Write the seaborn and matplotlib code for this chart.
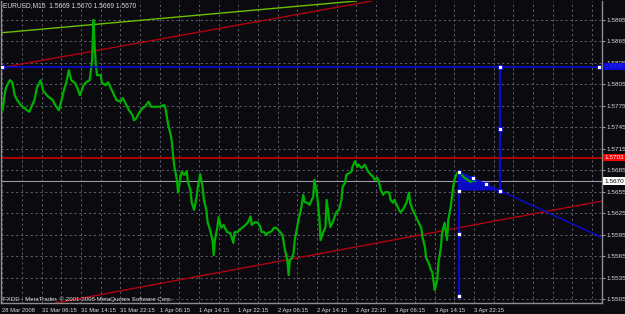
import numpy as np
import pandas as pd
import seaborn as sns
import matplotlib.pyplot as plt

# EURUSD M15 chart, bar index (0 = first bar shown) and close
bars = [0, 2, 3, 6, 8, 10, 12, 15, 18, 20, 22, 24, 26, 28, 31, 33, 36, 38, 41, 43,
        46, 48, 50, 52, 54, 56, 59, 61, 63, 66, 68, 71, 72, 73, 74, 75, 76, 77, 80, 81,
        84, 86, 89, 91, 93, 96, 98, 101, 103, 106, 107, 109, 111, 114, 116, 119, 121, 124, 126, 128,
        131, 132, 133, 135, 137, 138, 139, 140, 141, 142, 143, 145, 146, 148, 150, 151, 153, 154, 156, 158,
        159, 161, 163, 164, 166, 167, 169, 171, 172, 173, 175, 176, 178, 180, 181, 183, 185, 186, 188, 189,
        191, 193, 195, 198, 200, 202, 203, 205, 206, 208, 210, 211, 213, 215, 216, 218, 220, 221, 223, 224,
        226, 228, 229, 230, 232, 233, 234, 236, 237, 238, 240, 241, 243, 245, 246, 248, 250, 251, 253, 254,
        256, 258, 259, 261, 263, 264, 266, 267, 269, 271, 272, 274, 276, 277, 279, 280, 282, 284, 285, 287,
        289, 290, 292, 293, 295, 297, 298, 300, 302, 303, 305, 306, 308, 310, 311, 313, 315, 316, 318, 319,
        321, 323, 324, 326, 328, 329, 331, 332, 334, 336, 337, 339, 341, 342, 344, 345, 347, 349, 350, 352,
        354, 355, 357, 358, 360, 362, 363, 365, 367, 368, 370, 371, 374, 376, 379, 381, 384, 385]
closes = [1.5769, 1.5794, 1.5801, 1.5811, 1.5808, 1.5790, 1.5783, 1.5776, 1.5772, 1.5769,
          1.5767, 1.5776, 1.5783, 1.5800, 1.5811, 1.5797, 1.5790, 1.5787, 1.5783, 1.5776,
          1.5769, 1.5783, 1.5797, 1.5808, 1.5825, 1.5811, 1.5807, 1.5800, 1.5790, 1.5804,
          1.5808, 1.5811, 1.5825, 1.5839, 1.5895, 1.5860, 1.5832, 1.5818, 1.5818, 1.5807,
          1.5804, 1.5808, 1.5797, 1.5790, 1.5783, 1.5781, 1.5786, 1.5776, 1.5769, 1.5762,
          1.5755, 1.5758, 1.5765, 1.5772, 1.5774, 1.5781, 1.5774, 1.5774, 1.5774, 1.5774,
          1.5776, 1.5776, 1.5769, 1.5748, 1.5735, 1.5723, 1.5704, 1.5690, 1.5681, 1.5672,
          1.5654, 1.5676, 1.5683, 1.5679, 1.5684, 1.5669, 1.5658, 1.5641, 1.5630, 1.5647,
          1.5661, 1.5680, 1.5661, 1.5644, 1.5630, 1.5613, 1.5602, 1.5588, 1.5567, 1.5588,
          1.5606, 1.5620, 1.5605, 1.5609, 1.5605, 1.5599, 1.5598, 1.5595, 1.5584, 1.5599,
          1.5599, 1.5602, 1.5605, 1.5609, 1.5613, 1.5621, 1.5609, 1.5612, 1.5613, 1.5612,
          1.5606, 1.5599, 1.5599, 1.5595, 1.5598, 1.5599, 1.5602, 1.5605, 1.5605, 1.5603,
          1.5599, 1.5595, 1.5584, 1.5574, 1.5560, 1.5539, 1.5560, 1.5564, 1.5570, 1.5588,
          1.5606, 1.5616, 1.5630, 1.5651, 1.5641, 1.5640, 1.5637, 1.5641, 1.5648, 1.5672,
          1.5654, 1.5620, 1.5588, 1.5598, 1.5606, 1.5644, 1.5616, 1.5606, 1.5613, 1.5623,
          1.5627, 1.5630, 1.5644, 1.5662, 1.5668, 1.5679, 1.5681, 1.5683, 1.5690, 1.5698,
          1.5690, 1.5693, 1.5689, 1.5689, 1.5693, 1.5686, 1.5683, 1.5679, 1.5676, 1.5672,
          1.5675, 1.5672, 1.5658, 1.5651, 1.5654, 1.5655, 1.5654, 1.5644, 1.5640, 1.5644,
          1.5637, 1.5630, 1.5627, 1.5630, 1.5637, 1.5640, 1.5654, 1.5640, 1.5630, 1.5623,
          1.5619, 1.5612, 1.5605, 1.5592, 1.5578, 1.5563, 1.5556, 1.5546, 1.5543, 1.5518,
          1.5532, 1.5556, 1.5578, 1.5598, 1.5612, 1.5588, 1.5616, 1.5634, 1.5662, 1.5672,
          1.5681, 1.5683, 1.5679, 1.5675, 1.5672, 1.5669, 1.5672, 1.5670]

time_tick_bars = [0, 32, 64, 96, 128, 160, 192, 224, 256, 288, 320, 352, 384]
time_tick_labels = ["28 Mar 2008", "31 Mar 06:15", "31 Mar 14:15", "31 Mar 22:15",
                    "1 Apr 06:15", "1 Apr 14:15", "1 Apr 22:15", "2 Apr 06:15",
                    "2 Apr 14:15", "2 Apr 22:15", "3 Apr 06:15", "3 Apr 14:15", "3 Apr 22:15"]
price_ticks = [1.5505, 1.5535, 1.5565, 1.5595, 1.5625, 1.5655, 1.5685,
               1.5715, 1.5745, 1.5775, 1.5805, 1.5835, 1.5865, 1.5895]

# trend lines, two anchors each (bar, price)
green_trend_bars = [-2, 161]
green_trend_prices = [1.5877, 1.5902]
red_upper_bars = [4, 124]
red_upper_prices = [1.5830, 1.5867]
red_lower_bars = [340, 487]
red_lower_prices = [1.5595, 1.5642]

resistance_level = 1.5703
blue_level = 1.5830
last_price = 1.5670

# blue drawing objects
blue_level_bars = [0, 405, 486]
tri_bars = [372, 405, 372]
tri_prices = [1.5683, 1.5657, 1.5657]
right_leg_top = 1.5830
left_leg_bottom = 1.5510

bg = "#0b0b0f"
grid_col = "#5e5e72"
text_col = "#dcdcdc"
blue = "#0a0ad8"
small_font = ["Liberation Sans", "DejaVu Sans"]

sns.set_style("dark", {"axes.facecolor": bg, "figure.facecolor": bg})
plt.rcParams["font.family"] = small_font

df = pd.DataFrame({"bar": bars, "close": closes})

fig = plt.figure(figsize=(6.25, 3.14), dpi=100)
ax = fig.add_axes([1 / 625, 11 / 314, 601 / 625, 302 / 314])
ax.set_facecolor(bg)

xmin, xmax = -1.22, 488.2
ax.set_xlim(xmin, xmax)
ax.set_ylim(1.55001, 1.59215)

# grid
ax.set_xticks(time_tick_bars)
ax.set_xticklabels(time_tick_labels, ha="left", fontsize=4.2, color=text_col)
ax.set_xticks([b for b in range(16, 488, 16) if b not in time_tick_bars], minor=True)
ax.yaxis.tick_right()
ax.set_yticks(price_ticks)
ax.set_yticklabels([f"{p:.4f}" for p in price_ticks], fontsize=4.6, color=text_col)
ax.grid(True, which="both", color=grid_col, linestyle=(0, (2.2, 2.8)), linewidth=0.7)
ax.tick_params(axis="x", which="major", length=2, pad=1.8, color="#9a9a9a")
ax.tick_params(axis="x", which="minor", length=0)
ax.tick_params(axis="y", length=2, pad=1.2, color="#9a9a9a")
for side in ["left", "right", "bottom"]:
    ax.spines[side].set_color("#8e8e8e")
    ax.spines[side].set_linewidth(1.0)
    ax.spines[side].set_visible(True)
ax.spines["top"].set_visible(False)

# horizontal levels
ax.axhline(resistance_level, color="#b40000", linewidth=1.4, zorder=2)
ax.axhline(last_price, color="#9a9aa6", linewidth=0.8, zorder=2)

# trend lines
ax.axline((green_trend_bars[0], green_trend_prices[0]), (green_trend_bars[1], green_trend_prices[1]),
          color="#6cbf00", linewidth=1.0, zorder=2)
ax.axline((red_upper_bars[0], red_upper_prices[0]), (red_upper_bars[1], red_upper_prices[1]),
          color="#b00010", linewidth=1.0, zorder=2)
ax.axline((red_lower_bars[0], red_lower_prices[0]), (red_lower_bars[1], red_lower_prices[1]),
          color="#b00010", linewidth=1.0, zorder=2)

# blue triangle object (drawn under the price)
ax.fill(tri_bars, tri_prices, color=blue, alpha=0.9, linewidth=0, zorder=3)

# price
sns.lineplot(data=df, x="bar", y="close", ax=ax, color="#00b000", linewidth=1.6, zorder=4)
ax.set_xlabel("")
ax.set_ylabel("")
ax.xaxis.label.set_visible(False)
ax.yaxis.label.set_visible(False)

# blue lines
mk = dict(marker="s", markersize=3, markerfacecolor="white", markeredgecolor=blue, markeredgewidth=0.6)
ax.plot([blue_level_bars[0], blue_level_bars[-1]], [blue_level, blue_level], color=blue, linewidth=1.2, zorder=5)
ax.plot([blue_level_bars[0], blue_level_bars[-1]], [blue_level, blue_level], linestyle="none", zorder=6, **mk)

rx = tri_bars[1]
ax.plot([rx, rx], [right_leg_top, tri_prices[1]], color=blue, linewidth=1.5, zorder=5)
ax.plot([rx, rx, rx], [right_leg_top, (right_leg_top + tri_prices[1]) / 2, tri_prices[1]],
        linestyle="none", zorder=6, **mk)

lx = tri_bars[0]
ax.plot([lx, lx], [tri_prices[0], left_leg_bottom], color=blue, linewidth=1.5, zorder=5)
ax.plot([lx] * 4, [tri_prices[0], tri_prices[2], (tri_prices[0] + left_leg_bottom) / 2, left_leg_bottom],
        linestyle="none", zorder=6, **mk)

# ray along the triangle hypotenuse, extended to the right edge
slope = (tri_prices[1] - tri_prices[0]) / (tri_bars[1] - tri_bars[0])
ax.plot([tri_bars[0], xmax], [tri_prices[0], tri_prices[0] + slope * (xmax - tri_bars[0])],
        color=blue, linewidth=1.0, zorder=5)
hyp_b = [tri_bars[0] + (tri_bars[1] - tri_bars[0]) * f for f in (1 / 3, 2 / 3)]
ax.plot(hyp_b, [tri_prices[0] + slope * (b - tri_bars[0]) for b in hyp_b], linestyle="none", zorder=6, **mk)

# price tags on the axis
def tag(price, face, fg):
    ax.annotate(f"{price:.4f}", xy=(1, price), xycoords=("axes fraction", "data"),
                xytext=(1.6, 0), textcoords="offset points", ha="left", va="center",
                fontsize=4.6, color=fg, annotation_clip=False, zorder=10,
                bbox=dict(boxstyle="square,pad=0.2", facecolor=face, edgecolor="none"))

tag(blue_level, blue, "#2a2aff")
tag(resistance_level, "#ff0000", "white")
tag(last_price, "white", "black")

# texts
ax.text(0.004, 0.984, "EURUSD,M15  1.5669 1.5670 1.5669 1.5670", transform=ax.transAxes,
        fontsize=4.8, color=text_col, ha="left", va="center", zorder=10)
ax.text(0.004, 0.011, "FXDD - MetaTrader, \u00a9 2001-2008 MetaQuotes Software Corp.", transform=ax.transAxes,
        fontsize=4.4, color=text_col, ha="left", va="center", zorder=10)

fig.savefig("out.png", dpi=100, facecolor=bg)
